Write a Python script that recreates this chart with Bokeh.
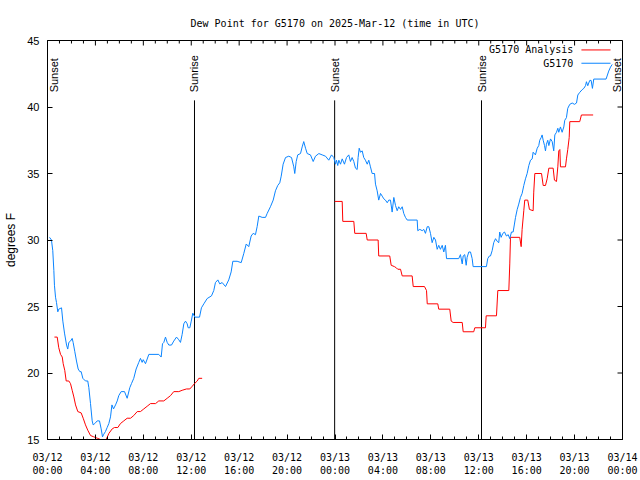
import math
from bokeh.plotting import figure
from bokeh.models import Range1d, FixedTicker, Label
from bokeh.embed import file_html
from bokeh.resources import INLINE

# ---------------- data (hours since 03/12 00:00 UTC, degrees F) ----------------
obs_hours = [0.17, 0.33, 0.44, 0.53, 0.58, 0.67, 0.75, 0.86, 0.94, 1.17, 1.28, 1.42, 1.59, 1.69, 1.78, 1.92,
             2.06, 2.14, 2.28, 2.42, 2.56, 2.70, 2.81, 2.95, 3.17, 3.36, 3.45, 3.59, 3.73, 3.81, 3.95, 4.15,
             4.34, 4.48, 4.59, 4.70, 4.84, 4.98, 5.12, 5.26, 5.38, 5.51, 5.68, 5.82, 5.95, 6.15, 6.43, 6.65,
             6.87, 7.01, 7.20, 7.40, 7.62, 7.76, 7.90, 7.99, 8.18, 8.46, 9.29, 9.49, 9.60, 9.71, 9.85, 9.99,
             10.13, 10.35, 10.54, 10.77, 10.96, 11.10, 11.24, 11.38, 11.52, 11.66, 11.74, 11.88, 12.00, 12.13,
             12.30, 12.69, 12.85, 13.05, 13.33, 13.69, 13.88, 14.02, 14.22, 14.38, 14.58, 14.86, 15.13, 15.33,
             15.47, 15.83, 16.17, 16.39, 16.59, 16.80, 17.00, 17.17, 17.36, 17.50, 17.64, 17.92, 18.20, 18.34,
             18.61, 18.84, 19.03, 19.22, 19.39, 19.51, 19.67, 19.87, 20.14, 20.37, 20.56, 20.64, 20.76, 20.89,
             21.12, 21.26, 21.39, 21.54, 21.68, 21.95, 22.18, 22.37, 22.65, 22.93, 23.21, 23.48, 23.71, 23.90,
             24.04, 24.12, 24.23, 24.32, 24.46, 24.60, 24.79, 24.96, 25.15, 25.29, 25.43, 25.57, 25.71, 25.85,
             25.93, 26.02, 26.13, 26.27, 26.40, 26.54, 26.69, 26.82, 26.96, 27.10, 27.30, 27.38, 27.52, 27.65,
             27.80, 27.94, 28.07, 28.21, 28.36, 28.49, 28.63, 28.77, 28.91, 29.05, 29.19, 29.32, 29.47, 29.61,
             29.74, 29.88, 30.03, 30.86, 30.91, 31.08, 31.28, 31.41, 31.55, 31.70, 31.83, 31.97, 32.11, 32.25,
             32.39, 32.53, 32.66, 32.80, 32.95, 33.08, 33.22, 33.31, 34.33, 34.47, 34.62, 34.70, 34.83, 34.95,
             35.03, 35.17, 35.31, 35.45, 35.53, 36.64, 36.75, 36.89, 36.98, 37.12, 37.25, 37.40, 37.54, 37.67,
             37.75, 37.87, 38.01, 38.15, 38.31, 38.46, 38.59, 38.73, 38.87, 38.98, 39.07, 39.21, 39.34, 39.48,
             39.62, 39.76, 39.90, 40.04, 40.18, 40.32, 40.46, 40.54, 40.73, 40.88, 41.01, 41.09, 41.21, 41.29,
             41.38, 41.49, 41.57, 41.65, 41.76, 41.85, 41.99, 42.13, 42.26, 42.35, 42.49, 42.60, 42.68, 42.82,
             42.96, 43.10, 43.18, 43.32, 43.43, 43.60, 43.80, 43.99, 44.16, 44.27, 44.43, 44.63, 44.77, 44.91,
             44.99, 45.10, 45.18, 45.27, 45.38, 45.49, 45.60, 46.63, 46.85, 47.00, 47.14]
obs_dewpt = [30.2, 30.0, 29.2, 27.7, 26.6, 25.7, 25.3, 24.6, 24.8, 24.9, 23.9, 23.0, 22.1, 21.8, 22.3, 22.4,
             22.6, 22.3, 21.6, 20.9, 20.3, 20.1, 20.1, 19.6, 19.4, 19.4, 18.9, 17.7, 16.4, 16.1, 16.2, 16.4,
             16.4, 15.8, 15.2, 15.4, 15.6, 15.9, 16.2, 16.7, 17.6, 17.3, 17.6, 17.9, 18.3, 18.6, 18.6, 18.1,
             18.9, 19.2, 19.6, 20.3, 20.8, 21.1, 20.8, 21.0, 20.7, 21.4, 21.4, 21.2, 22.2, 22.3, 22.7, 22.3,
             22.1, 22.1, 22.4, 22.7, 22.5, 22.3, 22.9, 23.7, 23.9, 23.7, 23.4, 23.4, 23.9, 24.5,
             24.2, 24.2, 24.9, 25.2, 25.6, 25.8, 26.2, 26.8, 27.0, 26.7, 26.8, 26.5, 27.0, 27.6,
             28.4, 28.4, 28.3, 29.0, 29.7, 29.5, 30.3, 30.5, 30.4, 31.0, 31.8, 31.7, 31.7, 32.0,
             32.5, 33.0, 33.7, 34.1, 34.3, 34.8, 35.7, 36.2, 36.3, 36.2, 35.5, 35.0, 35.9, 36.4,
             36.5, 37.0, 37.4, 36.9, 36.5, 36.4, 35.9, 36.3, 36.5, 36.4, 36.3, 36.0, 36.4, 36.2,
             35.7, 36.0, 35.6, 36.0, 35.7, 36.1, 35.7, 36.2, 36.4, 35.9, 36.2, 35.9, 35.4, 35.3,
             36.2, 36.9, 36.6, 36.7, 36.2, 36.0, 35.7, 36.0, 35.5, 35.0, 35.0, 34.2, 33.7, 33.0,
             33.5, 33.3, 33.1, 33.0, 32.8, 33.0, 33.0, 32.1, 33.2, 32.6, 32.2, 32.5, 32.3, 32.5,
             32.0, 31.7, 31.5, 31.5, 30.7, 30.8, 30.7, 30.8, 30.5, 31.0, 31.0, 30.5, 29.8, 30.2,
             30.0, 29.3, 29.6, 29.3, 29.6, 29.1, 29.6, 28.6, 28.6, 28.9, 28.2, 28.8, 28.9, 28.1,
             28.7, 29.1, 29.1, 28.6, 28.0, 28.0, 28.6, 28.8, 28.8, 29.2, 29.8, 30.1, 29.9, 29.8,
             30.6, 30.2, 30.5, 30.6, 30.3, 30.4, 30.1, 30.6, 30.6, 31.2, 31.7, 32.3, 32.7, 33.2,
             33.5, 34.1, 34.6, 35.0, 35.6, 36.0, 36.1, 36.6, 36.4, 36.9, 37.1, 37.5, 37.7, 37.9,
             37.5, 37.1, 36.7, 37.2, 37.5, 37.1, 37.6, 37.4, 36.7, 37.9, 38.1, 38.4, 38.1, 38.5,
             38.1, 38.5, 39.0, 39.2, 39.9, 40.2, 40.3, 40.2, 40.3, 40.9, 41.1, 41.3, 41.4, 41.6,
             41.9, 41.6, 41.8, 42.0, 42.0, 41.4, 42.1, 42.1, 42.7, 43.0, 43.2]

ana1_hours = [0.58, 0.81, 0.94, 1.09, 1.23, 1.31, 1.44, 1.56, 1.78, 1.92, 2.06, 2.20, 2.34, 2.53, 2.81, 2.98,
              3.17, 3.36, 3.59, 3.86, 4.15, 4.42, 4.57, 4.90, 5.12, 5.40, 5.59, 5.87, 6.09, 6.37, 6.65, 6.93,
              7.20, 7.49, 7.76, 8.04, 8.32, 8.60, 9.02, 9.29, 9.71, 9.99, 10.27, 10.54, 10.96, 11.24, 11.60,
              11.88, 12.08, 12.27, 12.50, 12.63, 12.91]
ana1_dewpt = [22.7, 22.7, 21.9, 21.4, 21.2, 20.7, 20.2, 19.4, 19.4, 19.2, 18.7, 18.2, 17.6, 17.1, 17.0, 16.6,
              16.1, 15.7, 15.3, 15.2, 15.1, 15.0, 15.0, 15.0, 15.45, 15.8, 15.9, 15.9, 16.2, 16.4, 16.6, 16.6,
              16.8, 17.1, 17.1, 17.3, 17.5, 17.7, 17.7, 17.9, 17.9, 18.1, 18.3, 18.6, 18.6, 18.7, 18.8,
              18.8, 19.0, 19.2, 19.4, 19.6, 19.6]

ana2_hours = [23.98, 24.60, 24.65, 25.57, 25.65, 26.60, 26.69, 27.60, 27.65, 28.57, 28.69, 28.96, 29.13, 29.24,
              29.47, 29.61, 30.44, 30.53, 31.47, 31.64, 31.70, 32.58, 32.66, 33.58, 33.70, 33.86, 34.62, 34.70,
              35.58, 35.67, 36.56, 36.62, 37.48, 37.59, 38.51, 38.59, 38.65, 39.42, 39.54, 39.62, 39.76, 39.84,
              40.09, 40.23, 40.54, 40.59, 40.68, 41.24, 41.38, 41.57, 41.71, 41.85, 42.21, 42.32, 42.49, 42.60,
              42.68, 42.77, 42.82, 43.24, 43.32, 43.43, 43.55, 43.60, 44.43, 44.57, 45.55]
ana2_dewpt = [32.9, 32.9, 31.4, 31.4, 30.5, 30.5, 30.0, 30.0, 28.8, 28.8, 28.1, 28.0, 27.9, 27.8,
              27.8, 27.3, 27.3, 26.5, 26.5, 26.2, 25.2, 25.2, 24.8, 24.8, 23.9, 23.8, 23.8, 23.1,
              23.1, 23.4, 23.4, 24.3, 24.3, 26.2, 26.2, 28.2, 30.2, 30.2, 29.5, 30.8, 32.2, 33.0,
              33.0, 32.3, 32.2, 33.6, 35.0, 35.0, 34.1, 34.1, 34.6, 35.4, 35.4, 34.5, 34.4, 35.5,
              36.7, 36.8, 35.5, 35.5, 36.1, 36.8, 37.7, 38.9, 38.9, 39.4, 39.4]

sunset_hours = [0.0, 23.97, 48.0]
sunrise_hours = [12.27, 36.23]

x_ticks = [0, 4, 8, 12, 16, 20, 24, 28, 32, 36, 40, 44, 48]
x_minor_ticks = list(range(0, 49))
x_tick_labels = ["03/12\n00:00", "03/12\n04:00", "03/12\n08:00", "03/12\n12:00", "03/12\n16:00",
                 "03/12\n20:00", "03/13\n00:00", "03/13\n04:00", "03/13\n08:00", "03/13\n12:00",
                 "03/13\n16:00", "03/13\n20:00", "03/14\n00:00"]
y_ticks = [15, 20, 25, 30, 35, 40, 45]

# ---------------- styling ----------------
MONO = "DejaVu Sans Mono"
SANS = "Liberation Sans"
RED = "#ff0000"
BLUE = "#0a84ff"
X0, X1, Y0, Y1 = 0, 48, 15, 45
FRAME_W, FRAME_H = 575, 399
MAJ_PX, MIN_PX = 5, 3
dx_per_px = (X1 - X0) / FRAME_W
dy_per_px = (Y1 - Y0) / FRAME_H

p = figure(width=640, height=480, output_backend="svg", toolbar_location=None,
           x_range=Range1d(X0, X1), y_range=Range1d(Y0, Y1),
           title="Dew Point for G5170 on 2025-Mar-12 (time in UTC)",
           min_border_left=47, min_border_right=18, min_border_top=40, min_border_bottom=41)
p.title.align = "center"
p.title.text_font = MONO
p.title.text_font_size = "10px"
p.title.text_font_style = "normal"
p.title.text_color = "black"
p.title.standoff = 23
p.grid.visible = False
p.outline_line_color = "black"
p.outline_line_alpha = 1.0
p.background_fill_color = "white"
p.border_fill_color = "white"

xa = p.xaxis[0]
xa.ticker = FixedTicker(ticks=x_ticks, minor_ticks=x_minor_ticks)
xa.major_label_overrides = {t: lab for t, lab in zip(x_ticks, x_tick_labels)}
xa.major_label_text_font = MONO
xa.major_label_text_font_size = "10px"
xa.major_label_text_color = "black"
xa.major_label_standoff = 12
xa.major_tick_in, xa.major_tick_out = MAJ_PX, 0
xa.minor_tick_in, xa.minor_tick_out = MIN_PX, 0
xa.axis_line_color = "black"
xa.major_tick_line_color = "black"
xa.minor_tick_line_color = "black"

ya = p.yaxis[0]
ya.ticker = FixedTicker(ticks=y_ticks)
ya.major_label_text_font = SANS
ya.major_label_text_font_size = "11px"
ya.major_label_text_color = "black"
ya.major_label_standoff = 8
ya.major_tick_in, ya.major_tick_out = MAJ_PX, 0
ya.minor_tick_in, ya.minor_tick_out = 0, 0
ya.axis_line_color = "black"
ya.major_tick_line_color = "black"
ya.axis_label = "degrees F"
ya.axis_label_text_font = SANS
ya.axis_label_text_font_size = "12px"
ya.axis_label_text_font_style = "normal"
ya.axis_label_text_color = "black"
ya.axis_label_standoff = 6

# mirrored inward ticks on the top and right frame edges
top_minor = [t for t in x_minor_ticks if t not in x_ticks]
p.segment(x0=x_ticks, y0=[Y1] * len(x_ticks), x1=x_ticks, y1=[Y1 - MAJ_PX * dy_per_px] * len(x_ticks),
          line_color="black", line_width=1)
p.segment(x0=top_minor, y0=[Y1] * len(top_minor), x1=top_minor, y1=[Y1 - MIN_PX * dy_per_px] * len(top_minor),
          line_color="black", line_width=1)
p.segment(x0=[X1] * len(y_ticks), y0=y_ticks, x1=[X1 - MAJ_PX * dx_per_px] * len(y_ticks), y1=y_ticks,
          line_color="black", line_width=1)

# sunrise / sunset markers
MARK_TOP, LABEL_Y = 40.5, 41.1
EDGE_SHIFT = 6  # px: keep labels on the frame edges fully inside the (clipped) frame
ev_x = sunset_hours + sunrise_hours
ev_lab = ["Sunset"] * len(sunset_hours) + ["Sunrise"] * len(sunrise_hours)
p.segment(x0=ev_x, y0=[Y0] * len(ev_x), x1=ev_x, y1=[MARK_TOP] * len(ev_x),
          line_color="black", line_width=1)
for xv, lab in zip(ev_x, ev_lab):
    shift = EDGE_SHIFT if xv <= X0 else (-EDGE_SHIFT if xv >= X1 else 0)
    p.add_layout(Label(x=xv, y=LABEL_Y, x_offset=shift, text=lab, angle=math.pi / 2, text_align="left",
                       text_baseline="middle", text_font=SANS, text_font_size="11px",
                       text_color="black"))

# series
p.line(ana1_hours, ana1_dewpt, line_color=RED, line_width=1)
p.line(ana2_hours, ana2_dewpt, line_color=RED, line_width=1)
p.line(obs_hours, obs_dewpt, line_color=BLUE, line_width=1)

# legend (text right-aligned, sample line to the right, as in reference)
LEG_TX, LEG_L0, LEG_L1 = 43.9, 44.57, 47.0
leg_rows = [("G5170 Analysis", RED, 44.29), ("G5170", BLUE, 43.29)]
for txt, col, yy in leg_rows:
    p.add_layout(Label(x=LEG_TX, y=yy, text=txt, text_align="right", text_baseline="middle",
                       text_font=MONO, text_font_size="10px", text_color="black"))
    p.segment(x0=[LEG_L0], y0=[yy], x1=[LEG_L1], y1=[yy], line_color=col, line_width=1)

open("out.html", "w").write(file_html(p, INLINE))
